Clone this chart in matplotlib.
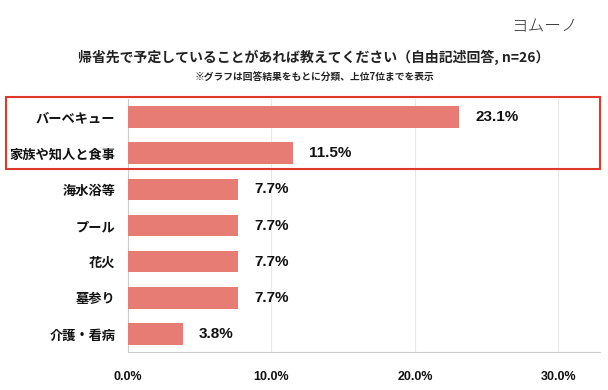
import matplotlib.pyplot as plt
from matplotlib.patches import Rectangle

plt.rcParams['font.family'] = ['Noto Sans CJK JP', 'DejaVu Sans']

categories = ['バーベキュー', '家族や知人と食事', '海水浴等', 'プール', '花火', '墓参り', '介護・看病']
values = [23.1, 11.5, 7.7, 7.7, 7.7, 7.7, 3.8]
xticks = [0, 10, 20, 30]
xtick_labels = ['0.0%', '10.0%', '20.0%', '30.0%']

title = '帰省先で予定していることがあれば教えてください（自由記述回答, n=26）'
subtitle = '※グラフは回答結果をもとに分類、上位7位までを表示'

W, H = 608, 390
fig = plt.figure(figsize=(W / 100, H / 100), dpi=100)
fig.patch.set_facecolor('white')

# axes placed in pixel coords: left 128, right 600, top 99, bottom 352
ax = fig.add_axes([128 / W, 1 - 352 / H, (600 - 128) / W, (352 - 99) / H])

y = list(range(len(categories)))
ax.barh(y, values, height=0.6, color='#E77C75', zorder=3)
ax.set_ylim(len(categories) - 0.5, -0.5)
ax.set_xlim(0, 32.9)

num_font = ['Liberation Sans', 'DejaVu Sans']
for yi, v in zip(y, values):
    ax.text(v + 1.1, yi, f'{v:.1f}%', va='center', ha='left', family=num_font,
            fontsize=11, fontweight='bold', color='#111111')

ax.set_yticks(y)
ax.set_yticklabels(categories, fontsize=9.5, fontweight='bold', color='#111111')
ax.tick_params(axis='y', length=0, pad=9)
ax.set_xticks(xticks)
ax.set_xticklabels(xtick_labels, fontsize=9, fontweight='bold', color='#111111',
                   family=num_font)
ax.tick_params(axis='x', length=0, pad=14)

ax.grid(axis='x', color='#E8E8E8', linewidth=0.8, zorder=0)
for s in ['top', 'right']:
    ax.spines[s].set_visible(False)
ax.spines['left'].set_color('#CCCCCC')
ax.spines['bottom'].set_color('#CCCCCC')

# highlight box around top two
fig.patches.append(Rectangle((6 / W, 1 - 169 / H), (600 - 6) / W, (169 - 97) / H,
                             transform=fig.transFigure, fill=False,
                             edgecolor='#E0392B', linewidth=1.5, zorder=10))

fig.text(0.5 + 10 / W, 1 - 57 / H, title, ha='center', va='center',
         fontsize=10, fontweight='bold', color='#222222')
fig.text(0.5 + 10 / W, 1 - 77 / H, subtitle, ha='center', va='center',
         fontsize=7, fontweight='bold', color='#222222')
fig.text(578 / W, 1 - 27 / H, 'ヨムーノ', ha='right', va='center',
         fontsize=12, fontweight='light', color='#333333')

fig.savefig('out.png', dpi=100)
